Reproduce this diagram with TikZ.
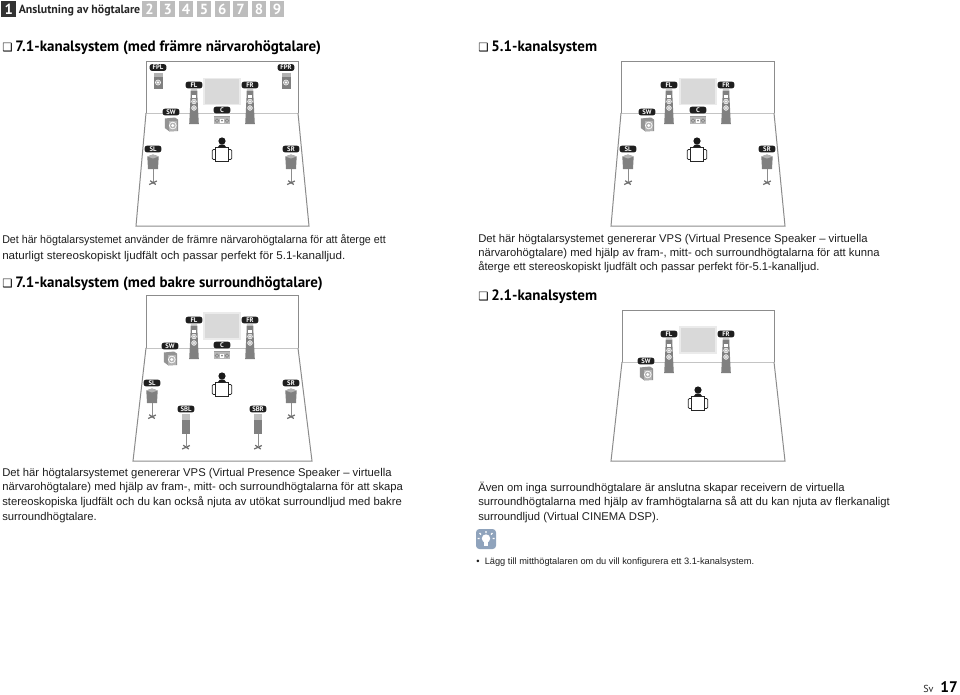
\documentclass[tikz,border=0pt]{standalone}
\usepackage{fontspec}
\setmainfont{Liberation Sans}
\newfontfamily\headfont{PT Sans}
\newfontfamily\symfont{DejaVu Sans}
\definecolor{wallc}{HTML}{8C8C8C}
\definecolor{wallf}{HTML}{C4C4C4}
\definecolor{spk}{HTML}{808080}
\definecolor{scr}{HTML}{D9D9D9}
\definecolor{scrb}{HTML}{EBEBEB}
\definecolor{txt}{HTML}{1E1E1E}
\definecolor{navg}{HTML}{BDBDBD}
\definecolor{tipb}{HTML}{8FA3BC}
\tikzset{
 pill/.style={fill=black!88,rounded corners=1.6pt,minimum width=12.5pt,minimum height=4.9pt,inner sep=0pt,text=white,font=\fontsize{5}{5}\headfont\bfseries\selectfont},
 body/.style={font=\fontsize{8.45}{10}\selectfont,text=txt,anchor=base west,inner sep=0pt},
 head/.style={font=\fontsize{11.25}{13}\headfont\bfseries\selectfont,text=black,anchor=base west,inner sep=0pt},
 navbox/.style={fill=navg,minimum width=10.9pt,minimum height=12pt,inner sep=0pt,text=white,font=\fontsize{11}{12}\headfont\bfseries\selectfont},
 wall/.style={draw=wallc,line width=.75pt},
 floorln/.style={draw=wallf,line width=.75pt},
 ring/.style={draw=white,line width=.35pt,fill=none},
}
\newcommand{\towerspk}[3]{\node[pill] at (#1,#2) {#3};
 \fill[spk] (#1-3.2,#2+4.5) -- (#1+3.2,#2+4.5) -- (#1+3.4,#2+11) -- (#1+4.8,#2+39) -- (#1-4.8,#2+39) -- (#1-3.4,#2+11) -- cycle;
 \fill[black!25] (#1-3.2,#2+5) rectangle (#1+3.2,#2+6);
 \fill[white] (#1-1.6,#2+9.5) rectangle (#1+1.6,#2+12.5);
 \draw[ring,fill=spk!50] (#1,#2+16.5) circle (2.4);
 \draw[ring,fill=spk!50] (#1,#2+23) circle (2.4);
 \fill[white] (#1,#2+16.5) circle (.8); \fill[white] (#1,#2+23) circle (.8);}
\newcommand{\centerspk}[2]{\node[pill] at (#1,#2) {C};
 \fill[spk!80] (#1-8,#2+5.5) rectangle (#1+8,#2+7.2);
 \fill[black!28] (#1-8,#2+7.2) rectangle (#1+8,#2+14);
 \fill[white] (#1-2,#2+9) rectangle (#1+2,#2+12.5);
 \fill[spk] (#1,#2+10.7) circle (1);
 \draw[spk,line width=.4pt] (#1-5,#2+10.7) circle (1.9) (#1+5,#2+10.7) circle (1.9);}
\newcommand{\subspk}[2]{\node[pill] at (#1,#2) {SW};
 \fill[spk!85] (#1-6.2,#2+6.5) -- (#1+4,#2+5.5) -- (#1+7,#2+7.5) -- (#1+7,#2+19) -- (#1-1.5,#2+19.5) -- (#1-6.2,#2+16) -- cycle;
 \fill[black!30] (#1-2.5,#2+8.5) rectangle (#1+6.2,#2+18.6);
 \draw[draw=white,fill=spk!60,line width=.5pt] (#1+1.8,#2+13.5) circle (3.4);
 \fill[white] (#1+1.8,#2+13.5) circle (1.6);}
\newcommand{\feet}[2]{\draw[spk!85!black,line width=.9pt] (#1-3.8,#2+2) -- (#1+3.8,#2-1.5) (#1-2.8,#2-1.8) -- (#1+2.8,#2+2);}
\newcommand{\surrspk}[3]{\node[pill] at (#1,#2) {#3};
 \fill[spk] (#1-5.7,#2+7.5) -- (#1,#2+5.5) -- (#1+5.7,#2+7.5) -- (#1+5,#2+20) -- (#1-5,#2+20) -- cycle;
 \fill[black!30] (#1-5.7,#2+7.5) -- (#1,#2+5.5) -- (#1+5.7,#2+7.5) -- (#1,#2+9.5) -- cycle;
 \draw[wallc,line width=.5pt] (#1,#2+20) -- (#1,#2+33.5);
 \feet{#1}{#2+33.5}}
\newcommand{\backspk}[3]{\node[pill] at (#1,#2) {#3};
 \fill[black!25] (#1-3.8,#2+4.5) rectangle (#1+3.8,#2+11);
 \fill[spk] (#1-3.8,#2+11) rectangle (#1+3.8,#2+25);
 \draw[wallc,line width=.5pt] (#1,#2+25) -- (#1,#2+37);
 \feet{#1}{#2+38}}
\newcommand{\frontpres}[3]{\node[pill] at (#1,#2) {#3};
 \fill[black!30] (#1-4.5,#2+5) rectangle (#1+4.5,#2+9);
 \fill[spk] (#1-4.5,#2+9) rectangle (#1+4.5,#2+21.5);
 \draw[ring,fill=black!30] (#1,#2+15) circle (2.6);
 \fill[white] (#1,#2+15) circle (1.1);}
\newcommand{\listener}[2]{\fill[black!90] (#1,#2) circle (3.6);
 \fill[black!90] (#1-4.5,#2+6.5) -- (#1-2,#2+3.5) -- (#1+2,#2+3.5) -- (#1+4.5,#2+6.5) -- cycle;
 \draw[black!85,fill=white,line width=.55pt,rounded corners=.8pt] (#1-9.7,#2+8.5) rectangle (#1+9.7,#2+18.5);
 \draw[black!85,fill=white,line width=.55pt] (#1-6.8,#2+6) rectangle (#1+6.8,#2+20.5);}
\newcommand{\screen}[4]{\fill[scr,draw=scrb,line width=.8pt] (#1,#2) rectangle (#3,#4);}
\newcommand{\roomshape}[7]{\draw[floorln] (#1,#4) -- (#2,#4);
 \draw[wall,line join=miter] (#1,#4) -- (#1,#3) -- (#2,#3) -- (#2,#4);
 \draw[wall] (#1,#4) -- (#5,#7) -- (#6,#7) -- (#2,#4);}
\newcommand{\boxmark}{{\symfont\fontsize{8.6}{11}\selectfont ❑}\hspace{2.2pt}}
\begin{document}
\begin{tikzpicture}[x=.75pt,y=-.75pt]
\useasboundingbox[fill=white] (0,0) rectangle (960,694);
\node[fill=black!80,minimum width=10.9pt,minimum height=12pt,inner sep=0pt,text=white,font=\fontsize{11}{12}\headfont\bfseries\selectfont] (nav1) at (8.7,9) {1};
\node[font=\fontsize{8.9}{12}\headfont\bfseries\selectfont,text=black!85,anchor=base west,inner sep=0pt] (navt) at (18.5,13) {Anslutning av högtalare};
\node[navbox] (nav2) at (149.5,9) {2};
\node[navbox] (nav3) at (167.7,9) {3};
\node[navbox] (nav4) at (186,9) {4};
\node[navbox] (nav5) at (204,9) {5};
\node[navbox] (nav6) at (222.3,9) {6};
\node[navbox] (nav7) at (240.5,9) {7};
\node[navbox] (nav8) at (259,9) {8};
\node[navbox] (nav9) at (277,9) {9};
\node[head] (h1) at (2,51) {\boxmark 7.1-kanalsystem (med främre närvarohögtalare)};
\node[head] (h2) at (478,51) {\boxmark 5.1-kanalsystem};
\node[head] (h3) at (2,287) {\boxmark 7.1-kanalsystem (med bakre surroundhögtalare)};
\node[head] (h4) at (478,300) {\boxmark 2.1-kanalsystem};
\roomshape{146}{298}{61}{113}{136}{309}{226}
\screen{204}{78.5}{240}{104.5}
\frontpres{158}{67.5}{FPL}
\frontpres{286}{67.5}{FPR}
\towerspk{194}{85}{FL}
\towerspk{250}{85}{FR}
\centerspk{222}{110}
\subspk{171}{112}
\listener{222}{141}
\surrspk{153}{149}{SL}
\surrspk{291}{149}{SR}
\roomshape{621}{774}{61}{113}{611}{785}{226}
\screen{680}{78.5}{716}{104.5}
\towerspk{669}{85}{FL}
\towerspk{726}{85}{FR}
\centerspk{698}{110}
\subspk{647}{112}
\listener{697}{141}
\surrspk{628}{149}{SL}
\surrspk{767}{149}{SR}
\roomshape{146}{298}{295}{348}{133}{312}{461}
\screen{204}{313}{240}{339}
\towerspk{194}{320}{FL}
\towerspk{250}{320}{FR}
\centerspk{222}{345}
\subspk{170}{346}
\listener{222}{376}
\surrspk{152}{383}{SL}
\surrspk{291}{383}{SR}
\backspk{186}{409}{SBL}
\backspk{258}{409}{SBR}
\roomshape{622}{774}{310}{362}{611}{785}{461}
\screen{680}{327}{716}{353}
\towerspk{669}{334}{FL}
\towerspk{726}{334}{FR}
\subspk{646}{361}
\listener{698}{390}
\node[body] (a1) at (2,243) {\scalebox{.948}[1]{Det här högtalarsystemet använder de främre närvarohögtalarna för att återge ett}};
\node[body] (a2) at (2,259) {\scalebox{1.03}[1]{naturligt stereoskopiskt ljudfält och passar perfekt för 5.1-kanalljud.}};
\node[body] (b1) at (478,242.5) {Det här högtalarsystemet genererar VPS (Virtual Presence Speaker -- virtuella};
\node[body] (b2) at (478,256.5) {närvarohögtalare) med hjälp av fram-, mitt- och surroundhögtalarna för att kunna};
\node[body] (b3) at (478,270.5) {återge ett stereoskopiskt ljudfält och passar perfekt för-5.1-kanalljud.};
\node[body] (c1) at (2,476.5) {Det här högtalarsystemet genererar VPS (Virtual Presence Speaker -- virtuella};
\node[body] (c2) at (2,490.5) {närvarohögtalare) med hjälp av fram-, mitt- och surroundhögtalarna för att skapa};
\node[body] (c3) at (2,505) {stereoskopiska ljudfält och du kan också njuta av utökat surroundljud med bakre};
\node[body] (c4) at (2,520) {surroundhögtalare.};
\node[body] (d1) at (478,491) {Även om inga surroundhögtalare är anslutna skapar receivern de virtuella};
\node[body] (d2) at (478,505) {surroundhögtalarna med hjälp av framhögtalarna så att du kan njuta av flerkanaligt};
\node[body] (d3) at (478,520) {surroundljud (Virtual CINEMA DSP).};
\fill[tipb,rounded corners=2.5pt] (476,529) rectangle (496,549);
\fill[white] (486,538.5) circle (4.2);
\fill[white] (484,541) rectangle (488,545.5);
\draw[white,line width=1pt] (486,531) -- (486,533) (479.5,533) -- (481,534.5) (492.5,533) -- (491,534.5) (477.5,538.5) -- (479.5,538.5) (494.5,538.5) -- (492.5,538.5);
\node[font=\fontsize{7}{9}\selectfont,text=txt,anchor=base west,inner sep=0pt] (e0) at (476,564) {•};
\node[font=\fontsize{6.95}{9}\selectfont,text=txt,anchor=base west,inner sep=0pt] (e1) at (484.5,564) {Lägg till mitthögtalaren om du vill konfigurera ett 3.1-kanalsystem.};
\node[font=\fontsize{7.6}{9}\headfont\selectfont,text=black!85,anchor=base west,inner sep=0pt] (f1) at (923,692) {Sv};
\node[font=\fontsize{11.5}{13}\headfont\bfseries\selectfont,text=black,anchor=base east,inner sep=0pt] (f2) at (958,692) {17};
\end{tikzpicture}
\end{document}
